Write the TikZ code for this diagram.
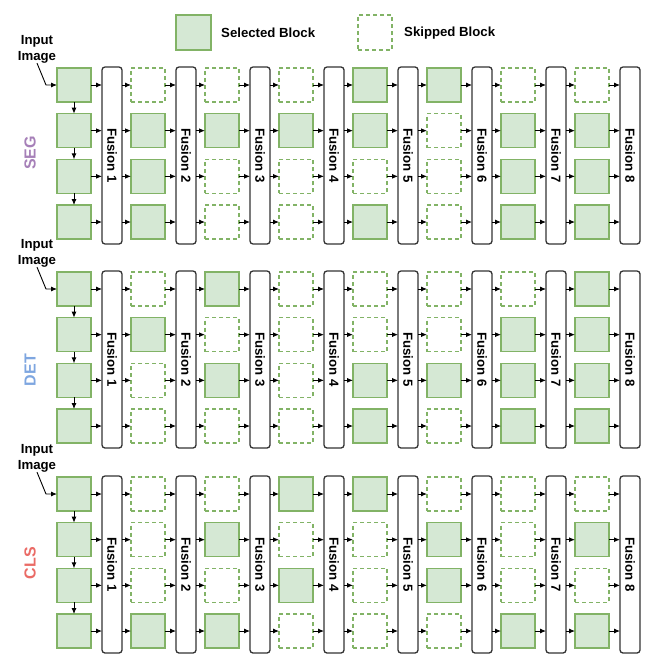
\documentclass[tikz,border=0pt]{standalone}
\usepackage{fontspec}
\setmainfont{Liberation Sans}
\usetikzlibrary{arrows.meta}
\definecolor{selfill}{HTML}{D5E8D4}
\definecolor{seldraw}{HTML}{82B366}
\definecolor{segc}{HTML}{A680B8}
\definecolor{detc}{HTML}{7EA6E0}
\definecolor{clsc}{HTML}{EA6B66}
\tikzset{
  selblk/.style={draw=seldraw, fill=selfill, line width=1.2bp, minimum width=34bp, minimum height=34bp, inner sep=0pt, outer sep=0pt},
  skipblk/.style={draw=seldraw, fill=white, dash pattern=on 4bp off 3bp, line width=1.2bp, minimum width=34bp, minimum height=34bp, inner sep=0pt, outer sep=0pt},
  fusbar/.style={draw=black!80, fill=white, rounded corners=3bp, line width=1.3bp, minimum width=20bp, minimum height=177bp, inner sep=0pt, outer sep=0pt},
  fustext/.style={font=\fontsize{13.2bp}{15bp}\selectfont\bfseries, rotate=-90, inner sep=0pt},
  arr/.style={-{Latex[length=6bp,width=5bp]}, line width=0.9bp, draw=black},
  lbl/.style={font=\fontsize{13.2bp}{16bp}\selectfont\bfseries, inner sep=0pt},
  tasklbl/.style={font=\fontsize{16bp}{18bp}\selectfont\bfseries, rotate=90, inner sep=0pt},
}
\newcommand\blk[4]{%
  \ifnum#4=1 \node[selblk] (#1) at (#2,#3) {};%
  \else \node[skipblk] (#1) at (#2,#3) {};\fi}
% #1 id, #2 y offset, #3 pattern, #4 label, #5 colour, #6 label y
\newcommand\drawsec[6]{%
  \foreach \qa/\qb/\qc/\qd [count=\ci] in {#3} {%
    \pgfmathsetmacro\bx{74+74*(\ci-1)}
    \pgfmathsetmacro\fx{112+74*(\ci-1)}
    \node[fusbar] (#1-f\ci) at (\fx, #2+155.5) {};
    \node[fustext] (#1-ft\ci) at (#1-f\ci) {Fusion \ci};
    \foreach \rw/\vv in {1/\qa,2/\qb,3/\qc,4/\qd} {%
      \pgfmathsetmacro\yy{#2+85+45.67*(\rw-1)}
      \blk{#1-\ci-\rw}{\bx}{\yy}{\vv}
      \draw[arr] (#1-\ci-\rw.east) -- (#1-\ci-\rw.east -| #1-f\ci.west);
      \ifnum\ci>1
        \pgfmathtruncatemacro\pv{\ci-1}
        \draw[arr] (#1-\ci-\rw.west -| #1-f\pv.east) -- (#1-\ci-\rw.west);
      \fi
    }
  }
  \foreach \rw [evaluate=\rw as \nx using int(\rw+1)] in {1,2,3} {%
    \draw[arr] (#1-1-\rw.south) -- (#1-1-\nx.north);
  }
  \node[lbl, align=center] (#1-in) at (37, #2+49) {Input\\Image};
  \coordinate (#1-bend) at (46, #2+85);
  \draw[arr] (#1-in.south) -- (#1-bend) -- (#1-1-1.west);
  \node[tasklbl, text=#5] (#1-lbl) at (30, #6) {#4};
}

\begin{document}
\begin{tikzpicture}[x=1bp,y=-1bp]
\useasboundingbox (0,0) rectangle (666,664);
% legend
\node[selblk, minimum width=35bp, minimum height=35bp] (legsel) at (193.5,32.5) {};
\node[lbl, anchor=west] (legseltxt) at (221,33) {Selected Block};
\node[skipblk, minimum width=34bp, minimum height=35bp] (legskip) at (375,32.5) {};
\node[lbl, anchor=west] (legskiptxt) at (404,33) {Skipped Block};
% sections
\drawsec{seg}{0}{1/1/1/1, 0/1/1/1, 0/1/0/0, 0/1/0/0, 1/1/0/1, 1/0/0/0, 0/1/1/1, 0/1/1/1}{SEG}{segc}{153}
\drawsec{det}{204}{1/1/1/1, 0/1/0/0, 1/0/1/0, 0/0/0/0, 0/0/1/1, 0/0/1/0, 0/1/1/1, 1/1/1/1}{DET}{detc}{370}
\drawsec{cls}{409}{1/1/1/1, 0/0/0/1, 0/1/0/1, 1/0/1/0, 1/0/0/0, 0/1/1/0, 0/0/0/1, 0/1/0/1}{CLS}{clsc}{563}
\end{tikzpicture}
\end{document}
